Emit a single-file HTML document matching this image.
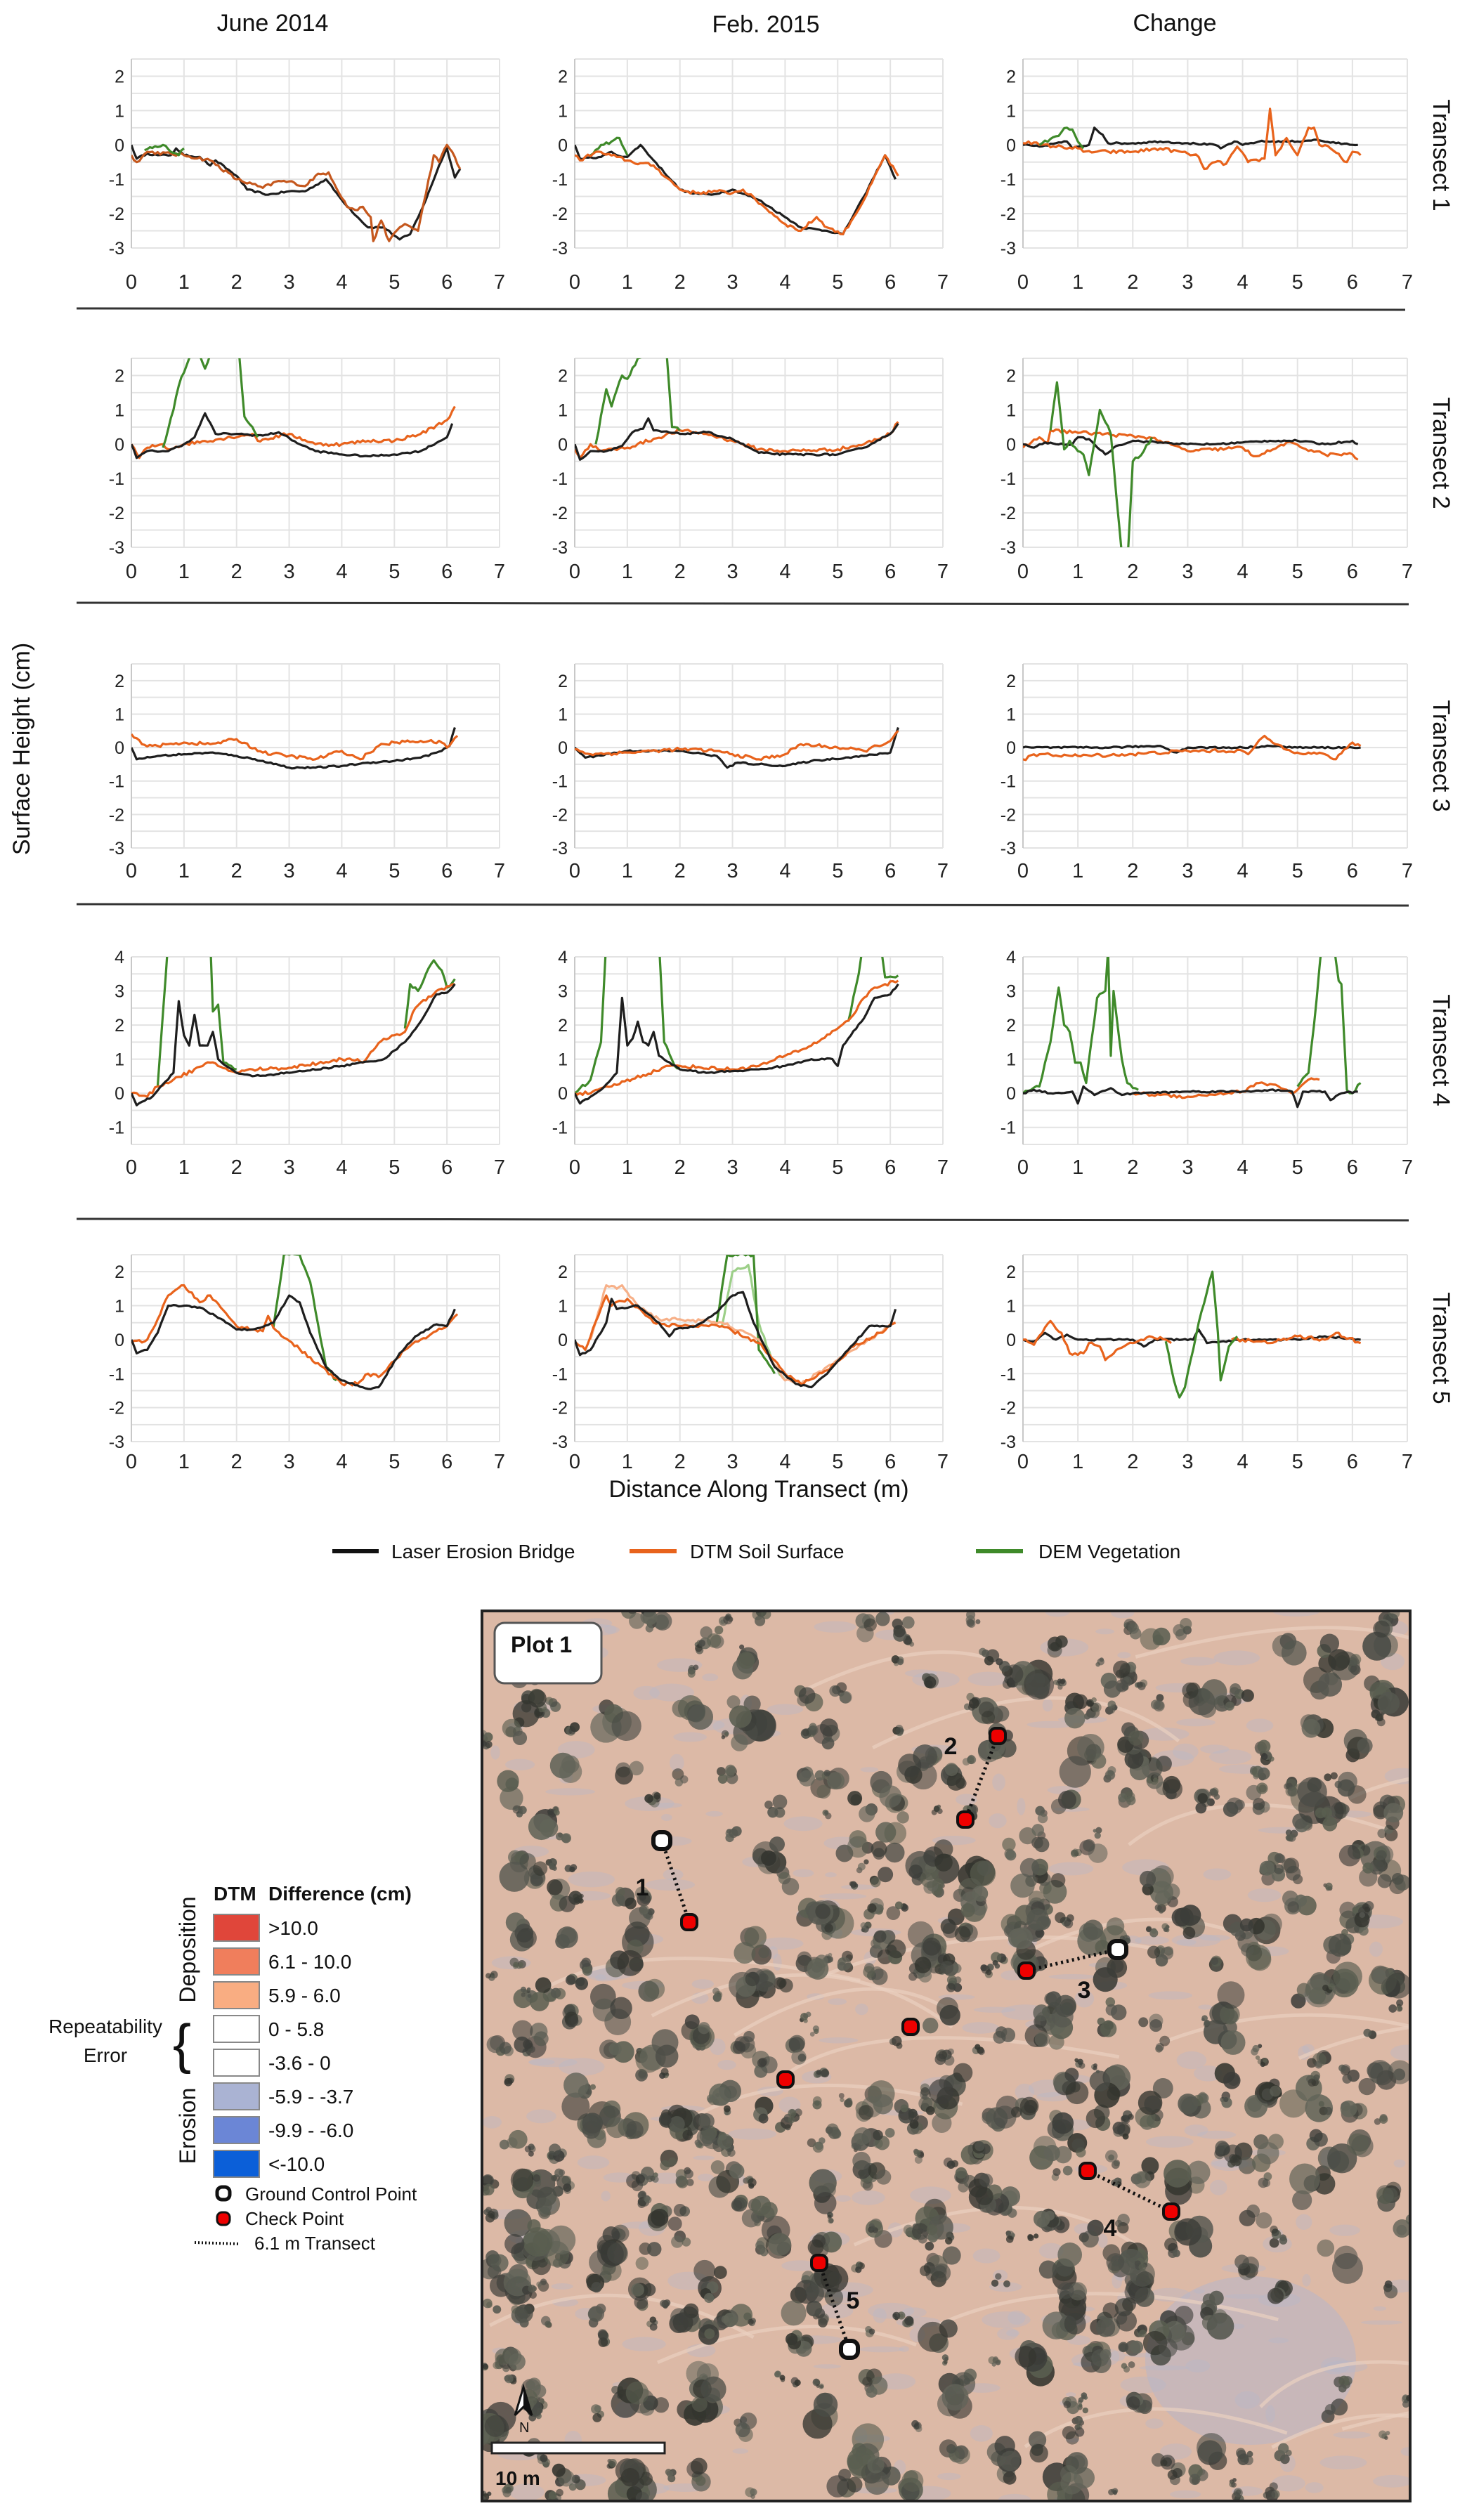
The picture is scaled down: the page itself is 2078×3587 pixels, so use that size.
<!DOCTYPE html>
<html><head><meta charset="utf-8">
<style>
html,body{margin:0;padding:0;background:#fff;}
svg{display:block;}
text{font-family:"Liberation Sans","DejaVu Sans",sans-serif;}
</style></head>
<body>
<svg id="s" xmlns="http://www.w3.org/2000/svg" width="2078" height="3587" viewBox="0 0 2078 3587">
<rect width="2078" height="3587" fill="#fff"/>
<g id="charts"></g>
<g font-size="34" fill="#111" text-anchor="middle">
<text x="388" y="44">June 2014</text>
<text x="1090" y="46">Feb. 2015</text>
<text x="1672" y="44">Change</text>
<text transform="translate(2040,221) rotate(90)">Transect 1</text>
<text transform="translate(2040,645) rotate(90)">Transect 2</text>
<text transform="translate(2040,1076) rotate(90)">Transect 3</text>
<text transform="translate(2040,1495) rotate(90)">Transect 4</text>
<text transform="translate(2040,1919) rotate(90)">Transect 5</text>
<text transform="translate(42,1066) rotate(-90)">Surface Height (cm)</text>
<text x="1080" y="2131">Distance Along Transect (m)</text>
</g>
<g stroke="#333" stroke-width="3">
<line x1="109" y1="439" x2="2000" y2="441"/>
<line x1="109" y1="858" x2="2005" y2="860"/>
<line x1="109" y1="1287" x2="2005" y2="1289"/>
<line x1="109" y1="1735" x2="2005" y2="1737"/>
</g>
<g font-size="28" fill="#111">
<line x1="473" y1="2208" x2="539" y2="2208" stroke="#111" stroke-width="6"/>
<text x="557" y="2218">Laser Erosion Bridge</text>
<line x1="896" y1="2208" x2="963" y2="2208" stroke="#e8631c" stroke-width="6"/>
<text x="982" y="2218">DTM Soil Surface</text>
<line x1="1389" y1="2208" x2="1456" y2="2208" stroke="#3f8a2a" stroke-width="6"/>
<text x="1478" y="2218">DEM Vegetation</text>
</g>
<!-- Map -->
<clipPath id="mc"><rect x="686" y="2293" width="1321" height="1267"/></clipPath>
<g clip-path="url(#mc)"><rect x="686" y="2293" width="1321" height="1267" fill="#dcb9a6"/><g id="map"></g></g>
<rect x="686" y="2293" width="1321" height="1267" fill="none" stroke="#222" stroke-width="4"/>
<rect x="704" y="2310" width="152" height="86" rx="14" fill="#fff" stroke="#555" stroke-width="3"/>
<text x="727" y="2352" font-size="32" font-weight="bold" fill="#111">Plot 1</text>
<g stroke="#111" stroke-width="5" stroke-dasharray="3,5" fill="none">
<line x1="942" y1="2620" x2="981" y2="2736"/>
<line x1="1420" y1="2471" x2="1374" y2="2590"/>
<line x1="1591" y1="2775" x2="1461" y2="2805"/>
<line x1="1548" y1="3090" x2="1667" y2="3148"/>
<line x1="1166" y1="3221" x2="1209" y2="3344"/>
</g>
<g fill="#e00" stroke="#111" stroke-width="4">
<rect x="970" y="2725" width="22" height="22" rx="8"/>
<rect x="1409" y="2460" width="22" height="22" rx="8"/>
<rect x="1363" y="2579" width="22" height="22" rx="8"/>
<rect x="1450" y="2794" width="22" height="22" rx="8"/>
<rect x="1285" y="2874" width="22" height="22" rx="8"/>
<rect x="1107" y="2949" width="22" height="22" rx="8"/>
<rect x="1537" y="3079" width="22" height="22" rx="8"/>
<rect x="1656" y="3137" width="22" height="22" rx="8"/>
<rect x="1155" y="3210" width="22" height="22" rx="8"/>
</g>
<g fill="#fff" stroke="#111" stroke-width="6">
<rect x="930" y="2608" width="24" height="24" rx="9"/>
<rect x="1579" y="2763" width="24" height="24" rx="9"/>
<rect x="1197" y="3332" width="24" height="24" rx="9"/>
</g>
<g font-size="34" font-weight="bold" fill="#111" text-anchor="middle">
<text x="914" y="2698">1</text>
<text x="1353" y="2497">2</text>
<text x="1543" y="2844">3</text>
<text x="1580" y="3183">4</text>
<text x="1214" y="3286">5</text>
</g>
<path d="M745 3398 L733 3438 L745 3426 L757 3438 Z" fill="#fff" stroke="#111" stroke-width="3"/>
<path d="M745 3398 L745 3426 L757 3438 Z" fill="#111"/>
<text x="739" y="3462" font-size="20" fill="#111">N</text>
<rect x="700" y="3477" width="246" height="15" fill="#fff" stroke="#222" stroke-width="3"/>
<text x="705" y="3537" font-size="28" font-weight="bold" fill="#111">10 m</text>
<!-- Legend -->
<g font-size="28" fill="#111">
<text x="304" y="2705" font-weight="bold">DTM</text>
<text x="382" y="2705" font-weight="bold">Difference (cm)</text>
<g stroke="#888" stroke-width="2">
<rect x="304" y="2725" width="65" height="38" fill="#e0463a"/>
<rect x="304" y="2773" width="65" height="38" fill="#f07e5c"/>
<rect x="304" y="2821" width="65" height="38" fill="#f9ad82"/>
<rect x="304" y="2869" width="65" height="38" fill="#fff"/>
<rect x="304" y="2917" width="65" height="38" fill="#fff"/>
<rect x="304" y="2965" width="65" height="38" fill="#aab3d3"/>
<rect x="304" y="3013" width="65" height="38" fill="#6b86d6"/>
<rect x="304" y="3061" width="65" height="38" fill="#0b5fd8"/>
</g>
<text x="382" y="2754">&gt;10.0</text>
<text x="382" y="2802">6.1 - 10.0</text>
<text x="382" y="2850">5.9 - 6.0</text>
<text x="382" y="2898">0 - 5.8</text>
<text x="382" y="2946">-3.6 - 0</text>
<text x="382" y="2994">-5.9 - -3.7</text>
<text x="382" y="3042">-9.9 - -6.0</text>
<text x="382" y="3090">&lt;-10.0</text>
<text transform="translate(278,2775) rotate(-90)" text-anchor="middle" font-size="32">Deposition</text>
<text transform="translate(278,3026) rotate(-90)" text-anchor="middle" font-size="32">Erosion</text>
<text x="150" y="2894" text-anchor="middle">Repeatability</text>
<text x="150" y="2935" text-anchor="middle">Error</text>
<text x="246" y="2936" font-size="78" font-weight="normal">{</text>
<rect x="309" y="3113" width="18" height="18" rx="7" fill="#fff" stroke="#111" stroke-width="5"/>
<rect x="309" y="3149" width="18" height="18" rx="7" fill="#e00" stroke="#111" stroke-width="3"/>
<line x1="277" y1="3192" x2="341" y2="3194" stroke="#111" stroke-width="4" stroke-dasharray="2,3"/>
<text x="349" y="3132" font-size="26">Ground Control Point</text>
<text x="349" y="3167" font-size="26">Check Point</text>
<text x="362" y="3202" font-size="26">6.1 m Transect</text>
</g>
</svg>
<script>
(function(){
var NS="http://www.w3.org/2000/svg";
function el(p,t,a){var e=document.createElementNS(NS,t);for(var k in a)e.setAttribute(k,a[k]);p.appendChild(e);return e;}
var seed=12345;function rnd(){seed=(seed*16807)%2147483647;return (seed-1)/2147483646;}
var C=document.getElementById('charts');
var cols=[{x0:187,x7:711},{x0:818,x7:1342},{x0:1456,x7:2003}];
var rows=[{ymin:-3,ymax:2.5,top:84,bot:353,lo:48},{ymin:-3,ymax:2.5,top:510,bot:779,lo:34},{ymin:-3,ymax:2.5,top:945,bot:1207,lo:32},{ymin:-1.5,ymax:4,top:1362,bot:1629,lo:32},{ymin:-3,ymax:2.5,top:1786,bot:2052,lo:28}];
var B='#1e1e1e',O='#e8631c',G='#3f8a2a',LO='#f7b088',LG='#9ccf88';
var D=[
[ // row1
[[B,[[0,0],[0.1,-0.4],[0.3,-0.25],[0.5,-0.3],[0.75,-0.3],[0.85,-0.1],[1,-0.3],[1.3,-0.35],[1.5,-0.6],[1.6,-0.45],[2,-0.9],[2.2,-1.3],[2.6,-1.45],[3,-1.35],[3.3,-1.35],[3.7,-1],[4,-1.6],[4.3,-2.1],[4.5,-2.4],[4.8,-2.4],[5.1,-2.75],[5.3,-2.6],[5.6,-1.6],[5.85,-0.6],[6,-0.1],[6.15,-0.95],[6.25,-0.7]]],
 ['#c5581e',[[0,-0.3],[0.1,-0.5],[0.3,-0.2],[1,-0.3],[1.5,-0.45],[2,-1],[2.5,-1.25],[2.8,-1.05],[3.1,-1.1],[3.3,-1.2],[3.5,-0.9],[3.75,-0.8],[4.1,-1.8],[4.3,-1.9],[4.4,-1.8],[4.55,-2.1],[4.6,-2.8],[4.75,-2.2],[4.9,-2.8],[5.1,-2.4],[5.2,-2.3],[5.45,-2.5],[5.75,-0.3],[5.85,-0.5],[6,0],[6.1,-0.2],[6.25,-0.7]]],
 [G,[[0.25,-0.15],[0.6,0],[0.75,-0.2],[0.9,-0.3],[1,-0.1]]]],
[[G,[[0.3,-0.3],[0.5,0],[0.7,0.1],[0.85,0.2],[1,-0.3]]],
 [B,[[0,0],[0.1,-0.4],[0.5,-0.35],[0.7,-0.2],[0.8,-0.3],[1,-0.35],[1.25,0],[1.5,-0.45],[2,-1.3],[2.2,-1.4],[2.6,-1.45],[3,-1.3],[3.5,-1.6],[4,-2.1],[4.3,-2.4],[4.8,-2.5],[5.1,-2.6],[5.5,-1.5],[5.9,-0.3],[6.1,-1]]],
 [O,[[0,-0.3],[0.1,-0.45],[0.4,-0.2],[0.8,-0.35],[1.1,-0.5],[1.5,-0.6],[2,-1.3],[2.3,-1.4],[2.7,-1.35],[3,-1.4],[3.2,-1.3],[3.6,-1.8],[4,-2.3],[4.3,-2.5],[4.6,-2.1],[4.8,-2.4],[5.1,-2.6],[5.5,-1.6],[5.9,-0.3],[6.15,-0.9]]]],
[[B,[[0,0],[0.3,-0.05],[0.6,0.05],[0.8,0.1],[0.9,-0.1],[1,-0.05],[1.2,0],[1.3,0.5],[1.45,0.3],[1.55,0.05],[2,0.05],[2.5,0.1],[3,0.05],[3.5,0],[3.6,-0.1],[3.85,0.1],[4,0],[4.3,0.1],[5,0.1],[5.3,0.15],[5.7,0.05],[6.1,0]]],
 [O,[[0,0.05],[0.1,0.1],[0.3,0],[1,-0.1],[1.1,-0.2],[2,-0.2],[2.5,-0.1],[3,-0.25],[3.2,-0.35],[3.3,-0.7],[3.5,-0.5],[3.7,-0.55],[3.9,-0.05],[4.1,-0.5],[4.4,-0.4],[4.5,1.05],[4.6,-0.3],[4.8,0.2],[5,-0.3],[5.2,0.5],[5.3,0.5],[5.4,0],[5.6,-0.1],[5.9,-0.5],[6,-0.2],[6.15,-0.3]]],
 [G,[[0.3,0],[0.6,0.25],[0.8,0.5],[0.9,0.45],[1,0.1],[1.1,-0.1]]]]
],
[ // row2
[[O,[[0,0],[0.15,-0.4],[0.3,-0.1],[0.6,0],[0.7,-0.15],[1,0],[2.3,0.3],[2.4,0.1],[3,0.3],[3.5,0],[4,0],[4.5,0.1],[5,0.1],[5.5,0.3],[6,0.7],[6.15,1.1]]],
 [B,[[0,0],[0.1,-0.4],[0.3,-0.2],[0.7,-0.2],[1,0],[1.2,0.2],[1.4,0.9],[1.6,0.3],[2,0.3],[2.5,0.25],[2.8,0.35],[3.2,0],[3.5,-0.2],[4,-0.3],[4.5,-0.35],[5,-0.3],[5.5,-0.2],[6,0.2],[6.1,0.6]]],
 [G,[[0.6,-0.1],[0.8,1],[0.9,1.7],[1.1,2.5],[1.2,3],[1.4,2.2],[1.6,3],[2,3],[2.05,2.6],[2.15,0.8],[2.3,0.5],[2.4,0.2]]]],
[[O,[[0,-0.15],[0.1,-0.4],[0.3,0],[0.5,-0.2],[1,-0.1],[2,0.4],[2.5,0.3],[3,0.1],[3.5,-0.15],[4,-0.2],[5,-0.15],[5.5,0],[6,0.3],[6.15,0.65]]],
 [B,[[0,0],[0.1,-0.45],[0.3,-0.2],[0.6,-0.2],[0.9,-0.05],[1.1,0.35],[1.3,0.45],[1.4,0.75],[1.5,0.4],[2,0.3],[2.5,0.35],[3,0.15],[3.5,-0.25],[4,-0.3],[5,-0.3],[5.5,-0.1],[6,0.3],[6.15,0.6]]],
 [G,[[0.4,0],[0.6,1.6],[0.7,1.1],[0.9,2],[1,1.9],[1.2,2.5],[1.5,2.8],[1.75,2.6],[1.85,0.5],[2,0.4]]]],
[[O,[[0,-0.1],[0.3,0.2],[0.45,0.05],[0.5,0.4],[2.3,0.2],[2.5,0.1],[3,-0.2],[4,-0.1],[4.2,-0.35],[4.5,-0.2],[4.8,0.05],[5.5,-0.3],[6,-0.3],[6.1,-0.45]]],
 [B,[[0,0],[0.2,-0.1],[0.4,0.05],[0.6,0],[0.9,0],[1,0.2],[1.2,0.15],[1.5,-0.3],[1.7,-0.05],[2,0.1],[2.5,0.05],[3,0],[3.5,0],[4,0.05],[4.5,0.1],[5,0.1],[5.5,0],[6,0.1],[6.1,0]]],
 [G,[[0.5,0.4],[0.62,1.8],[0.75,-0.15],[0.85,0.1],[1,-0.2],[1.1,-0.3],[1.2,-0.9],[1.4,1],[1.6,0.3],[1.8,-3.2],[1.9,-3.5],[2,-0.5],[2.2,-0.2],[2.35,0.2]]]]
],
[ // row3
[[B,[[0,0],[0.1,-0.35],[0.5,-0.25],[1,-0.2],[1.5,-0.15],[2,-0.25],[2.5,-0.4],[3,-0.6],[3.5,-0.6],[4,-0.55],[4.5,-0.45],[5,-0.4],[5.5,-0.3],[5.9,-0.1],[6.05,0.05],[6.15,0.6]]],
 [O,[[0,0.4],[0.2,0.1],[0.5,0.05],[1,0.15],[1.5,0.1],[2,0.25],[2.5,-0.15],[3,-0.25],[3.5,-0.35],[4,-0.1],[4.35,-0.35],[4.7,0.05],[5,0.15],[5.5,0.2],[5.9,0.15],[6,0],[6.2,0.35]]]],
[[B,[[0,0],[0.2,-0.3],[1,-0.1],[2,-0.1],[2.7,-0.25],[2.9,-0.6],[3.1,-0.45],[3.5,-0.5],[4,-0.55],[4.5,-0.4],[5.5,-0.25],[6,-0.15],[6.15,0.6]]],
 [O,[[0,-0.05],[0.3,-0.2],[1,-0.15],[2,-0.05],[2.7,-0.1],[3,-0.2],[3.5,-0.35],[4,-0.2],[4.3,0.1],[5,0],[5.5,-0.1],[6,0.2],[6.15,0.5]]]],
[[B,[[0,0],[1,0],[1.5,0],[2.5,0.05],[2.8,-0.15],[3,0],[4,0],[4.5,0.05],[5,0],[6,0],[6.15,0]]],
 [O,[[0,-0.35],[0.3,-0.2],[1,-0.25],[2,-0.2],[3,-0.1],[4,-0.1],[4.1,-0.2],[4.4,0.35],[4.6,0.1],[5,-0.15],[5.5,-0.2],[5.7,-0.35],[6,0.15],[6.15,0.05]]]]
],
[ // row4
[[G,[[0.5,0.2],[0.7,4.5],[1.1,4.5],[1.5,4.5],[1.55,2.4],[1.65,2.6],[1.75,0.9],[1.9,0.8],[2,0.7]]],
 [G,[[5.2,1.9],[5.3,3.2],[5.45,3.0],[5.6,3.5],[5.75,3.9],[5.9,3.6],[6,3.1],[6.15,3.35]]],
 [O,[[0,0],[0.3,-0.1],[0.5,0.2],[1.5,0.9],[2,0.6],[2.3,0.7],[3,0.75],[4,1.0],[4.3,1.0],[4.4,0.9],[4.8,1.6],[5.2,1.8],[5.4,2.5],[5.8,3.0],[6.15,3.2]]],
 [B,[[0,0],[0.1,-0.35],[0.4,-0.1],[0.8,0.6],[0.9,2.7],[1,1.7],[1.1,1.4],[1.2,2.3],[1.3,1.4],[1.45,1.4],[1.55,1.8],[1.65,1],[1.8,0.8],[2,0.6],[2.3,0.5],[3,0.6],[4,0.8],[4.8,1.0],[5.2,1.5],[5.5,2.1],[5.8,2.9],[6,2.95],[6.15,3.2]]]],
[[G,[[0,0],[0.3,0.4],[0.5,1.5],[0.6,4.5],[1.6,4.5],[1.7,1.5],[1.9,0.8],[2,0.75]]],
 [G,[[5.2,2.1],[5.4,3.5],[5.5,4.5],[5.8,4.5],[5.9,3.4],[6.15,3.45]]],
 [O,[[0,0],[0.3,0],[1.8,0.8],[2,0.8],[3,0.7],[3.5,0.8],[4,1.1],[4.5,1.4],[5,1.9],[5.3,2.3],[5.5,2.8],[5.7,3.1],[6.15,3.3]]],
 [B,[[0,0],[0.1,-0.3],[0.5,0.1],[0.8,0.6],[0.9,2.8],[1,1.4],[1.1,1.6],[1.2,2.1],[1.3,1.5],[1.4,1.4],[1.5,1.8],[1.6,1.1],[2,0.7],[2.5,0.6],[3,0.65],[3.5,0.7],[4,0.8],[4.5,1.0],[4.9,1.0],[5,0.8],[5.1,1.4],[5.5,2.2],[5.7,2.8],[6,2.9],[6.15,3.2]]]],
[[O,[[2,0],[2.5,-0.05],[3,-0.1],[4,0.05],[4.3,0.3],[4.6,0.25],[4.9,0],[5,0.1],[5.2,0.4],[5.4,0.4]]],
 [G,[[0,0],[0.3,0.2],[0.5,1.5],[0.65,3.1],[0.75,2],[0.85,1.8],[0.95,0.9],[1.05,0.9],[1.15,0.3],[1.35,2.8],[1.5,3],[1.55,4.2],[1.6,1.1],[1.65,3],[1.8,1],[1.9,0.3],[2.1,0.1]]],
 [G,[[5,0.2],[5.2,0.6],[5.3,2],[5.45,4.5],[5.65,4.5],[5.75,3.3],[5.8,3.2],[5.9,0.1],[6,0],[6.15,0.3]]],
 [B,[[0,0],[0.2,0.1],[0.5,0],[0.9,0.05],[1,-0.3],[1.1,0.2],[1.3,-0.05],[1.6,0.15],[1.8,-0.05],[2,0],[3,0.05],[4,0.05],[4.5,0.1],[4.9,0.05],[5,-0.4],[5.1,0.05],[5.5,0.05],[5.6,-0.2],[5.8,0],[6.1,0.05]]]]
],
[ // row5
[[G,[[2.7,0.35],[2.9,2.5],[3.2,2.5],[3.4,1.7],[3.7,-0.8],[3.9,-1.2]]],
 [O,[[0,-0.1],[0.3,0],[0.5,0.6],[0.7,1.3],[1,1.6],[1.3,1.1],[1.5,1.3],[2,0.4],[2.3,0.3],[2.5,0.25],[2.6,0.7],[2.7,0.35],[4,-1.3],[4.3,-1.3],[4.5,-1],[4.7,-1.1],[5.2,-0.3],[5.5,0],[6,0.4],[6.2,0.75]]],
 [B,[[0,0],[0.1,-0.4],[0.3,-0.3],[0.5,0.2],[0.7,1],[1,1],[1.3,0.95],[1.6,0.7],[2,0.3],[2.3,0.3],[2.7,0.5],[3,1.3],[3.2,1.1],[3.4,0.2],[3.7,-0.8],[4,-1.2],[4.5,-1.45],[4.7,-1.4],[5.1,-0.4],[5.4,0.1],[5.8,0.45],[6,0.4],[6.15,0.9]]]],
[[LG,[[2.8,0.4],[3,2],[3.3,2.2],[3.5,0.5],[3.8,-0.8],[4,-1.2]]],
 [G,[[2.7,0.5],[2.9,2.5],[3.4,2.5],[3.5,-0.3],[3.8,-1]]],
 [LO,[[0.3,0],[0.6,1.6],[0.8,1.5],[0.9,1.6],[1.2,1],[1.6,0.6],[2,0.6],[2.8,0.5],[3.5,0],[4,-1.2],[4.3,-1.3],[5,-0.6],[5.8,0.2],[6.1,0.5]]],
 [O,[[0,-0.05],[0.2,-0.3],[0.6,1.3],[0.7,1],[1,1.2],[1.3,0.8],[1.5,0.5],[2,0.4],[2.8,0.4],[3.5,-0.1],[4,-1],[4.3,-1.3],[4.8,-0.9],[5.3,-0.2],[5.8,0.2],[6.1,0.5]]],
 [B,[[0,0],[0.1,-0.45],[0.3,-0.3],[0.6,0.5],[0.7,1.2],[0.8,0.9],[1.2,1],[1.6,0.5],[1.8,0.1],[1.9,0.3],[2.3,0.4],[2.7,0.8],[3,1.3],[3.2,1.4],[3.4,0.5],[3.8,-0.8],[4.2,-1.3],[4.5,-1.4],[4.8,-1],[5.2,-0.3],[5.6,0.4],[6,0.4],[6.1,0.9]]]],
[[B,[[0,0],[0.2,-0.05],[0.4,0.2],[0.6,0],[0.8,0.15],[1,0],[2,0],[2.2,-0.2],[2.4,0],[2.9,0],[3.1,0],[3.2,0.3],[3.35,-0.1],[4,0],[5,0],[5.5,0.1],[6.15,0]]],
 [O,[[0,0],[0.2,-0.15],[0.5,0.55],[0.7,0.2],[0.85,-0.4],[1.1,-0.4],[1.2,-0.1],[1.4,-0.2],[1.5,-0.6],[1.7,-0.3],[2,-0.1],[2.3,0.1],[2.6,0],[2.7,-0.1]]],
 [O,[[3.8,0],[4,0],[4.5,-0.1],[5,0.1],[5.5,0],[5.7,0.2],[6.15,-0.1]]],
 [G,[[2.6,-0.05],[2.75,-1.2],[2.85,-1.7],[2.95,-1.4],[3.1,-0.3],[3.2,0.5],[3.35,1.4],[3.45,2],[3.55,0.2],[3.6,-1.2],[3.75,-0.2],[3.9,0.1]]]]
]];
var cid=0;
rows.forEach(function(r,ri){cols.forEach(function(c,ci){
 var sx=(c.x7-c.x0)/7, sy=(r.bot-r.top)/(r.ymax-r.ymin);
 function X(v){return c.x0+v*sx;} function Y(v){return r.bot-(v-r.ymin)*sy;}
 var g=el(C,'g',{});
 for(var v=r.ymin;v<=r.ymax+1e-6;v+=0.5) el(g,'line',{x1:c.x0,x2:c.x7,y1:Y(v),y2:Y(v),stroke:'#e3e3e3','stroke-width':2});
 for(var i=0;i<=7;i++) el(g,'line',{x1:X(i),x2:X(i),y1:r.top,y2:r.bot,stroke:'#e3e3e3','stroke-width':2});
 el(g,'line',{x1:c.x0,x2:c.x0,y1:r.top,y2:r.bot,stroke:'#c8c8c8','stroke-width':2});
 for(var v=Math.ceil(r.ymin);v<=Math.floor(r.ymax);v++){var t=el(g,'text',{x:c.x0-10,y:Y(v)+9,'font-size':25,fill:'#222','text-anchor':'end'});t.textContent=String(v);}
 for(var i=0;i<=7;i++){var t=el(g,'text',{x:X(i),y:r.bot+r.lo+10,'font-size':29,fill:'#222','text-anchor':'middle'});t.textContent=String(i);}
 cid++;var cp=el(g,'clipPath',{id:'c'+cid});el(cp,'rect',{x:c.x0,y:r.top,width:c.x7-c.x0,height:r.bot-r.top});
 var lg=el(g,'g',{'clip-path':'url(#c'+cid+')'});
 D[ri][ci].forEach(function(s){
  var col=s[0],pts=s[1],amp=(col==B?0.025:0.05),out=[];
  for(var k=0;k<pts.length-1;k++){var a=pts[k],b=pts[k+1];var n=Math.max(1,Math.round((b[0]-a[0])/0.05));
   for(var j=0;j<n;j++){var f=j/n;var yv=a[1]+(b[1]-a[1])*f;if(j>0)yv+=(rnd()-0.5)*2*amp;out.push(X(a[0]+(b[0]-a[0])*f).toFixed(1)+','+Y(yv).toFixed(1));}}
  var L=pts[pts.length-1];out.push(X(L[0]).toFixed(1)+','+Y(L[1]).toFixed(1));
  el(lg,'polyline',{points:out.join(' '),fill:'none',stroke:col,'stroke-width':3.2,'stroke-linejoin':'round'});
 });
});});
// map texture
var M=document.getElementById('map');
var MX=686,MY=2293,MW=1321,MH=1267;
for(var i=0;i<300;i++){el(M,'ellipse',{cx:MX+rnd()*MW,cy:MY+rnd()*MH,rx:6+rnd()*30,ry:3+rnd()*10,fill:'#b5b8cc',opacity:0.35});}
el(M,'ellipse',{cx:1780,cy:3360,rx:150,ry:120,fill:'#b3b6cc',opacity:0.5});
for(var i=0;i<22;i++){var x=MX+rnd()*MW,y=MY+rnd()*MH;el(M,'path',{d:'M'+x+' '+y+' q'+(100+rnd()*200)+' '+(-60-rnd()*80)+' '+(300+rnd()*200)+' '+(-40+rnd()*60),stroke:'#ead0c0','stroke-width':5,fill:'none',opacity:0.7});}
var shades=['#3c3d39','#4a4c46','#55574f','#626459','#34352f','#5a5e50'];
for(var i=0;i<720;i++){var x=MX+rnd()*MW,y=MY+rnd()*MH;
 if(x>1650&&x<1950&&y>3240&&y<3470&&rnd()<0.75)continue;
 var band=Math.abs((y-MY)-(0.75*MH-0.45*(x-MX)));
 if(band>320&&rnd()<0.3)continue;
 var r=6+Math.pow(rnd(),1.5)*20;
 var n=3+Math.floor(rnd()*4);
 for(var k=0;k<n;k++){el(M,'circle',{cx:x+(rnd()-0.5)*r*1.6,cy:y+(rnd()-0.5)*r*1.6,r:r*(0.4+rnd()*0.5),fill:shades[Math.floor(rnd()*shades.length)],opacity:0.55+rnd()*0.35});}
}
})();
</script>
</body></html>
